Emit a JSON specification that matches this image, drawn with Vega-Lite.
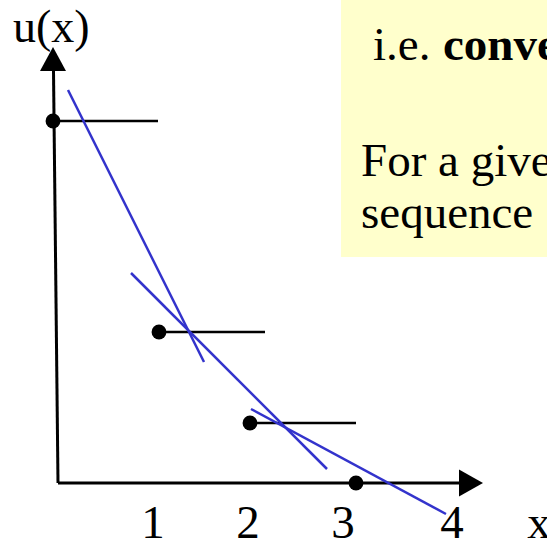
{
  "$schema": "https://vega.github.io/schema/vega-lite/v6.json",
  "width": 547,
  "height": 543,
  "autosize": {"type": "none"},
  "padding": 0,
  "background": "white",
  "config": {"view": {"stroke": null}, "text": {"font": "Times New Roman, Liberation Serif, DejaVu Serif, serif"}},
  "datasets": {
    "box": [{"x": 2.88, "x2": 4.94, "y": 2.26, "y2": 4.83}],
    "axes": [
      {"x": 0.005, "y": 4.12, "x2": 0.05, "y2": 0},
      {"x": 0.05, "y": 0, "x2": 4.1, "y2": 0}
    ],
    "steps": [
      {"x": 0, "y": 3.62, "x2": 1.05, "y2": 3.62},
      {"x": 1.06, "y": 1.51, "x2": 2.12, "y2": 1.51},
      {"x": 1.97, "y": 0.6, "x2": 3.03, "y2": 0.6}
    ],
    "tangents": [
      {"x": 0.15, "y": 3.93, "x2": 1.51, "y2": 1.21},
      {"x": 0.78, "y": 2.1, "x2": 2.74, "y2": 0.14},
      {"x": 1.98, "y": 0.74, "x2": 3.93, "y2": -0.31}
    ],
    "points": [
      {"x": 0, "y": 3.62},
      {"x": 1.06, "y": 1.51},
      {"x": 1.97, "y": 0.6},
      {"x": 3.03, "y": 0}
    ],
    "arrowUp": [{"x": 0, "y": 4.24}],
    "arrowRight": [{"x": 4.18, "y": 0}],
    "ticks": [
      {"x": 1.0, "y": -0.55, "label": "1"},
      {"x": 1.95, "y": -0.55, "label": "2"},
      {"x": 2.9, "y": -0.55, "label": "3"},
      {"x": 3.99, "y": -0.55, "label": "4"},
      {"x": 4.86, "y": -0.55, "label": "x"}
    ],
    "ylabel": [{"x": -0.4, "y": 4.41, "label": "u(x)"}],
    "plain": [
      {"x": 3.2, "y": 4.23, "label": "i.e."},
      {"x": 3.08, "y": 3.07, "label": "For a give"},
      {"x": 3.08, "y": 2.55, "label": "sequence"}
    ],
    "bold": [{"x": 3.9, "y": 4.23, "label": "conve"}]
  },
  "layer": [
    {
      "data": {"name": "box"},
      "mark": {"type": "rect", "fill": "#FFFFCC"},
      "encoding": {
        "x": {"field": "x", "type": "quantitative", "scale": {"domain": [-0.53, 4.94], "nice": false, "zero": false}, "axis": null},
        "x2": {"field": "x2"},
        "y": {"field": "y", "type": "quantitative", "scale": {"domain": [-0.6, 4.83], "nice": false, "zero": false}, "axis": null},
        "y2": {"field": "y2"}
      }
    },
    {
      "data": {"name": "axes"},
      "mark": {"type": "rule", "stroke": "black", "strokeWidth": 3},
      "encoding": {
        "x": {"field": "x", "type": "quantitative"},
        "x2": {"field": "x2"},
        "y": {"field": "y", "type": "quantitative"},
        "y2": {"field": "y2"}
      }
    },
    {
      "data": {"name": "arrowUp"},
      "mark": {"type": "point", "filled": true, "fill": "black", "opacity": 1, "strokeWidth": 0, "shape": "M0,-1L-1.083,1L1.083,1Z", "size": 576},
      "encoding": {
        "x": {"field": "x", "type": "quantitative"},
        "y": {"field": "y", "type": "quantitative"}
      }
    },
    {
      "data": {"name": "arrowRight"},
      "mark": {"type": "point", "filled": true, "fill": "black", "opacity": 1, "strokeWidth": 0, "shape": "M1,0L-1,-1.125L-1,1.125Z", "size": 576},
      "encoding": {
        "x": {"field": "x", "type": "quantitative"},
        "y": {"field": "y", "type": "quantitative"}
      }
    },
    {
      "data": {"name": "steps"},
      "mark": {"type": "rule", "stroke": "black", "strokeWidth": 2.5},
      "encoding": {
        "x": {"field": "x", "type": "quantitative"},
        "x2": {"field": "x2"},
        "y": {"field": "y", "type": "quantitative"},
        "y2": {"field": "y2"}
      }
    },
    {
      "data": {"name": "tangents"},
      "mark": {"type": "rule", "stroke": "#3333CC", "strokeWidth": 2.5},
      "encoding": {
        "x": {"field": "x", "type": "quantitative"},
        "x2": {"field": "x2"},
        "y": {"field": "y", "type": "quantitative"},
        "y2": {"field": "y2"}
      }
    },
    {
      "data": {"name": "points"},
      "mark": {"type": "circle", "fill": "black", "opacity": 1, "size": 220},
      "encoding": {
        "x": {"field": "x", "type": "quantitative"},
        "y": {"field": "y", "type": "quantitative"}
      }
    },
    {
      "data": {"name": "ticks"},
      "mark": {"type": "text", "fontSize": 47, "align": "center", "baseline": "alphabetic", "color": "black"},
      "encoding": {
        "x": {"field": "x", "type": "quantitative"},
        "y": {"field": "y", "type": "quantitative"},
        "text": {"field": "label"}
      }
    },
    {
      "data": {"name": "ylabel"},
      "mark": {"type": "text", "fontSize": 46, "align": "left", "baseline": "alphabetic", "color": "black"},
      "encoding": {
        "x": {"field": "x", "type": "quantitative"},
        "y": {"field": "y", "type": "quantitative"},
        "text": {"field": "label"}
      }
    },
    {
      "data": {"name": "plain"},
      "mark": {"type": "text", "fontSize": 47, "align": "left", "baseline": "alphabetic", "color": "black"},
      "encoding": {
        "x": {"field": "x", "type": "quantitative"},
        "y": {"field": "y", "type": "quantitative"},
        "text": {"field": "label"}
      }
    },
    {
      "data": {"name": "bold"},
      "mark": {"type": "text", "fontSize": 47, "fontWeight": "bold", "align": "left", "baseline": "alphabetic", "color": "black"},
      "encoding": {
        "x": {"field": "x", "type": "quantitative"},
        "y": {"field": "y", "type": "quantitative"},
        "text": {"field": "label"}
      }
    }
  ]
}
